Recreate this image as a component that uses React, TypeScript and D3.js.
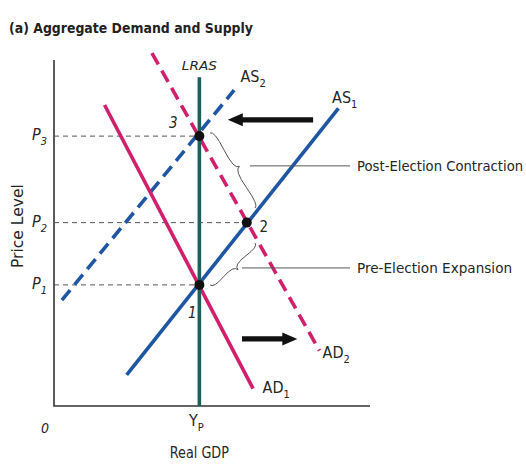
import React from "react";
import * as d3 from "d3";

// curve endpoints in chart units (x: real GDP, y: price level), 0..100 on each axis
const lras = [{ x: 46, y: 0 }, { x: 46, y: 95 }];
const as1 = [{ x: 23, y: 9 }, { x: 90, y: 86 }];
const as2 = [{ x: 2.5, y: 30.6 }, { x: 57, y: 91.3 }];
const ad1 = [{ x: 16, y: 87 }, { x: 63, y: 5 }];
const ad2 = [{ x: 31, y: 102 }, { x: 84, y: 16 }];

const priceLevels = [
  { sub: "1", v: 35 },
  { sub: "2", v: 53 },
  { sub: "3", v: 78 },
];
const potentialGDP = 46;

// label offsets are in pixels from the dot
const equilibria = [
  { id: "1", x: 46, y: 35, dx: -7, dy: 28 },
  { id: "2", x: 61, y: 53, dx: 17, dy: 4 },
  { id: "3", x: 46, y: 78, dx: -26, dy: -13 },
];

const shiftArrows = [
  { from: { x: 82, y: 82.7 }, to: { x: 55, y: 82.7 } },
  { from: { x: 59.5, y: 19.4 }, to: { x: 77, y: 19.4 } },
];

const braces = [
  { a: { x: 49.4, y: 78.9 }, b: { x: 63.6, y: 57.2 }, lineFrom: 62, lineTo: 93.7, ly: 69.4, text: "Post-Election Contraction", tl: 166 },
  { a: { x: 63.6, y: 47.1 }, b: { x: 49.4, y: 35 }, lineFrom: 59.5, lineTo: 93.7, ly: 39.9, text: "Pre-Election Expansion", tl: 155 },
];

const PINK = "#d11f6c";
const BLUE = "#1f56a3";
const TEAL = "#1d5f5b";
const INK = "#262626";
const FONT = "'DejaVu Sans Condensed', 'DejaVu Sans', sans-serif";

function bracePath(x1: number, y1: number, x2: number, y2: number, w: number, q = 0.6) {
  const len = Math.hypot(x2 - x1, y2 - y1);
  const dx = (x2 - x1) / len;
  const dy = (y2 - y1) / len;
  const nx = dy, ny = -dx;
  const mx = (x1 + x2) / 2, my = (y1 + y2) / 2;
  const p = (bx: number, by: number) => `${bx.toFixed(1)} ${by.toFixed(1)}`;
  return (
    `M${p(x1, y1)} Q${p(x1 + q * w * nx, y1 + q * w * ny)} ${p(x1 + 0.25 * len * dx + (1 - q) * w * nx, y1 + 0.25 * len * dy + (1 - q) * w * ny)}` +
    ` T${p(mx + w * nx, my + w * ny)}` +
    ` M${p(x2, y2)} Q${p(x2 + q * w * nx, y2 + q * w * ny)} ${p(x2 - 0.25 * len * dx + (1 - q) * w * nx, y2 - 0.25 * len * dy + (1 - q) * w * ny)}` +
    ` T${p(mx + w * nx, my + w * ny)}`
  );
}

export default function App() {
  const W = 526, H = 465;
  const x = d3.scaleLinear().domain([0, 100]).range([54, 370]);
  const y = d3.scaleLinear().domain([0, 100]).range([406, 60]);
  const line = d3.line<{ x: number; y: number }>().x(d => x(d.x)).y(d => y(d.y));

  const arrow = (fx: number, tx: number, py: number) => {
    const dir = Math.sign(tx - fx);
    const head = 15, hw = 6.5, sw = 2.6;
    const bx = tx - dir * head;
    return `M${fx},${py - sw} L${bx},${py - sw} L${bx},${py - hw} L${tx},${py} L${bx},${py + hw} L${bx},${py + sw} L${fx},${py + sw} Z`;
  };

  return (
    <svg width={W} height={H} style={{ display: "block", position: "absolute", left: 0, top: 0, background: "#fff" }} fontFamily={FONT}>
      <text x={9} y={33} fontSize={14} fontWeight="bold" fill="#222" textLength={244} lengthAdjust="spacingAndGlyphs">
        (a) Aggregate Demand and Supply
      </text>

      {/* axes */}
      <path d={`M${x(0)},${y(100)} L${x(0)},${y(0)} L${x(100)},${y(0)}`} fill="none" stroke="#333" strokeWidth={1.6} />

      {/* price level guides */}
      {priceLevels.map((p, i) => {
        const eq = equilibria.find(e => Math.abs(e.y - p.v) < 1.5)!;
        return (
          <g key={i}>
            <line x1={x(0)} x2={x(eq.x)} y1={y(p.v)} y2={y(p.v)} stroke="#555" strokeWidth={1} strokeDasharray="5,4" />
            <text x={x(0) - 7} y={y(p.v) + 4} textAnchor="end" fontSize={16} fill={INK} fontStyle="italic">
              P<tspan fontSize={11} dy={5}>{p.sub}</tspan>
            </text>
          </g>
        );
      })}

      {/* curves */}
      <path d={line(as2)!} stroke={BLUE} strokeWidth={3.6} strokeDasharray="13,7" fill="none" />
      <path d={line(ad1)!} stroke={PINK} strokeWidth={3.6} fill="none" />
      <path d={line(as1)!} stroke={BLUE} strokeWidth={3.6} fill="none" />
      <path d={line(ad2)!} stroke={PINK} strokeWidth={3.6} strokeDasharray="13,7" fill="none" />
      <path d={line(lras)!} stroke={TEAL} strokeWidth={3.6} fill="none" />

      {/* equilibrium points */}
      {equilibria.map(e => (
        <g key={e.id}>
          <circle cx={x(e.x)} cy={y(e.y)} r={5} fill="#111" />
          <text x={x(e.x) + e.dx} y={y(e.y) + e.dy + 5} textAnchor="middle" fontSize={15} fill={INK}
            fontStyle={e.id === "2" ? "normal" : "italic"}>{e.id}</text>
        </g>
      ))}

      {/* shift arrows */}
      {shiftArrows.map((a, i) => (
        <path key={i} d={arrow(x(a.from.x), x(a.to.x), y(a.from.y))} fill="#111" />
      ))}

      {/* braces and notes */}
      {braces.map((b, i) => (
        <g key={i}>
          <path d={bracePath(x(b.a.x), y(b.a.y), x(b.b.x), y(b.b.y), 8)} fill="none" stroke="#555" strokeWidth={1} />
          <line x1={x(b.lineFrom)} x2={x(b.lineTo)} y1={y(b.ly)} y2={y(b.ly)} stroke="#555" strokeWidth={1} />
          <text x={x(b.lineTo) + 7} y={y(b.ly) + 5} fontSize={14} fill={INK} textLength={b.tl} lengthAdjust="spacingAndGlyphs">{b.text}</text>
        </g>
      ))}

      {/* curve labels */}
      <text x={x(46)} y={y(95) - 7} textAnchor="middle" fontSize={13} fontStyle="italic" fill={INK} textLength={35} lengthAdjust="spacingAndGlyphs">LRAS</text>
      <text x={x(59)} y={y(95) + 5} fontSize={16} fill={INK}>AS<tspan fontSize={11} dy={5}>2</tspan></text>
      <text x={x(88)} y={y(89) + 5} fontSize={16} fill={INK}>AS<tspan fontSize={11} dy={5}>1</tspan></text>
      <text x={x(85)} y={y(15.5) + 6} fontSize={16} fill={INK}>AD<tspan fontSize={11} dy={5}>2</tspan></text>
      <text x={x(66)} y={y(5.5) + 6} fontSize={16} fill={INK}>AD<tspan fontSize={11} dy={5}>1</tspan></text>

      {/* axis labels */}
      <text x={x(0) - 9} y={y(0) + 27} textAnchor="middle" fontSize={14} fontStyle="italic" fill={INK}>0</text>
      <text x={x(potentialGDP) - 3} y={y(0) + 20} textAnchor="middle" fontSize={16} fill={INK}>
        Y<tspan fontSize={11} dy={5}>P</tspan>
      </text>
      <text x={x(potentialGDP)} y={y(0) + 52} textAnchor="middle" fontSize={15} fill={INK} textLength={59} lengthAdjust="spacingAndGlyphs">Real GDP</text>
      <text transform={`translate(23,${y(52)}) rotate(-90)`} textAnchor="middle" fontSize={15} fill={INK} textLength={84} lengthAdjust="spacingAndGlyphs">Price Level</text>
    </svg>
  );
}
